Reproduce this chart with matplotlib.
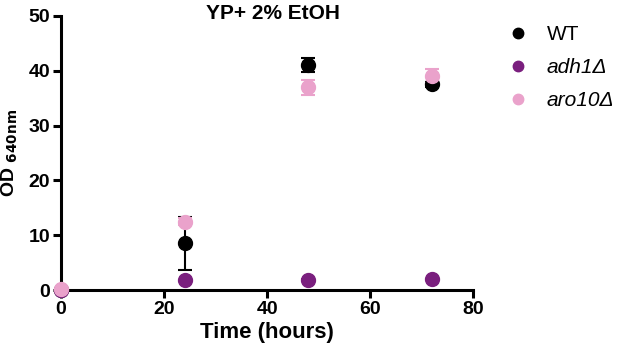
import matplotlib.pyplot as plt

plt.rcParams["font.family"] = ["Liberation Sans", "DejaVu Sans"]

time_h = [0, 24, 48, 72]

wt_od = [0.0, 8.5, 41.0, 37.5]
wt_err = [0.0, 4.9, 1.3, 0.4]

adh1_od = [0.0, 1.8, 1.9, 2.0]
adh1_err = [0.0, 0.1, 0.1, 0.1]

aro10_od = [0.2, 12.5, 37.0, 39.0]
aro10_err = [0.0, 0.6, 1.4, 1.3]

series = [
    ("WT", wt_od, wt_err, "#000000", "normal"),
    ("adh1Δ", adh1_od, adh1_err, "#7a1f7e", "italic"),
    ("aro10Δ", aro10_od, aro10_err, "#eaa2cb", "italic"),
]

fig = plt.figure(figsize=(6.17, 3.55), dpi=100)
ax = fig.add_axes([0.099, 0.183, 0.668, 0.772])

handles = []
for label, y, err, color, style in series:
    h = ax.errorbar(time_h, y, yerr=err, fmt="o", color=color, ms=10,
                    elinewidth=1.5, capsize=5, capthick=1.5, clip_on=False,
                    zorder=3)
    handles.append(h[0])

ax.set_xlim(0, 80)
ax.set_ylim(0, 50)
ax.set_xticks([0, 20, 40, 60, 80])
ax.set_yticks([0, 10, 20, 30, 40, 50])
for side in ["top", "right"]:
    ax.spines[side].set_visible(False)
for side in ["left", "bottom"]:
    ax.spines[side].set_linewidth(2.2)
ax.tick_params(width=2.2, length=6, labelsize=14, pad=2)
for lbl in ax.get_xticklabels() + ax.get_yticklabels():
    lbl.set_fontweight("bold")

ax.set_xlabel("Time (hours)", fontsize=16, fontweight="bold", labelpad=3)
ax.set_ylabel(r"OD $_{\mathbf{640nm}}$", fontsize=14, fontweight="bold", labelpad=6)
fig.text(0.443, 0.963, "YP+ 2% EtOH", fontsize=15, fontweight="bold",
         ha="center", va="center")

leg = ax.legend(handles, [s[0] for s in series], loc="upper left",
                bbox_to_anchor=(1.022, 1.035), frameon=False, fontsize=15,
                markerscale=0.75, handlelength=1.6, handletextpad=0.6,
                labelspacing=0.68)
for txt, s in zip(leg.get_texts(), series):
    txt.set_fontstyle(s[4])

fig.savefig("out.png", dpi=100)
